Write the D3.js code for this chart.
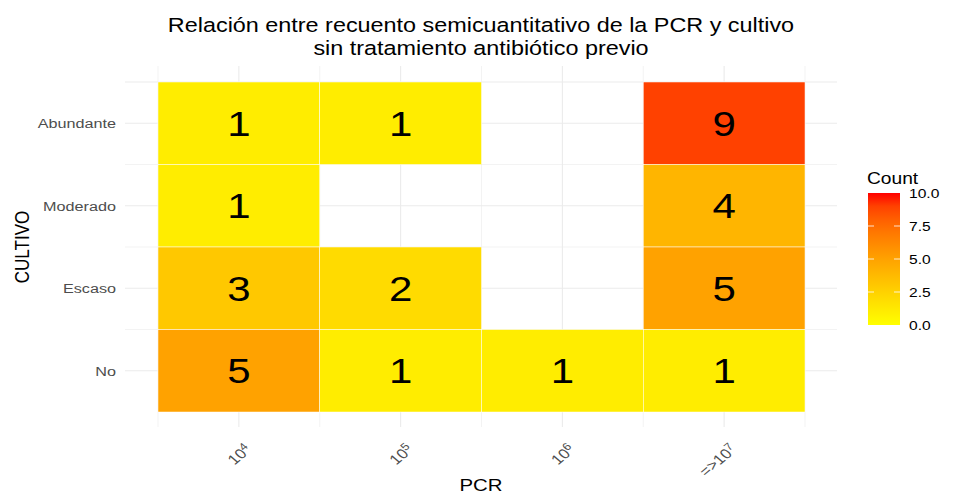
<!DOCTYPE html>
<meta charset="utf-8">
<title>PCR vs cultivo</title>
<body style="margin:0;background:#fff">
<script src="https://d3js.org/d3.v7.min.js"></script>
<div id="chart"></div>
<script>
// datos
var pcr = ["4", "5", "6", "7"];               // exponentes de 10
var pcrPrefix = ["", "", "", "=>"];
var cultivo = ["No", "Escaso", "Moderado", "Abundante"];
var counts = [
  // [pcr, cultivo, n]
  ["4", "Abundante", 1], ["5", "Abundante", 1], ["7", "Abundante", 9],
  ["4", "Moderado", 1], ["7", "Moderado", 4],
  ["4", "Escaso", 3], ["5", "Escaso", 2], ["7", "Escaso", 5],
  ["4", "No", 5], ["5", "No", 1], ["6", "No", 1], ["7", "No", 1]
];
var legendTicks = [0, 2.5, 5, 7.5, 10];

var W = 953, H = 496;
var panel = {left: 125, right: 837, top: 66, bottom: 427};
var font = "'Liberation Sans', Arial, sans-serif";
var sx = 1.2; // la imagen original esta estirada en horizontal

var svg = d3.select("#chart").append("svg")
  .attr("width", W).attr("height", H)
  .style("font-family", font);

function label(px, py, txt, size, anchor, fill) {
  return svg.append("text")
    .attr("transform", "translate(" + px + "," + py + ") scale(" + sx + ",1)")
    .attr("text-anchor", anchor || "start")
    .attr("font-size", size).attr("fill", fill || "#000")
    .text(txt);
}

var x = d3.scaleBand().domain(pcr).range([158, 805]);
var y = d3.scaleBand().domain(cultivo).range([412, 82]);
var color = d3.scaleSequential(d3.interpolateLab("yellow", "red")).domain([0, 10]);

// rejilla
var grid = svg.append("g");
var xb = pcr.map(function(d) { return x(d); }).concat([x.range()[1]]);
var yb = cultivo.map(function(d) { return y(d); }).concat([y.range()[1]]);
xb.forEach(function(v) {
  grid.append("line").attr("x1", v).attr("x2", v).attr("y1", panel.top).attr("y2", panel.bottom)
    .attr("stroke", "#ebebeb").attr("stroke-width", 0.6);
});
yb.forEach(function(v) {
  grid.append("line").attr("y1", v).attr("y2", v).attr("x1", panel.left).attr("x2", panel.right)
    .attr("stroke", "#ebebeb").attr("stroke-width", 0.6);
});
pcr.forEach(function(d) {
  var v = x(d) + x.bandwidth() / 2;
  grid.append("line").attr("x1", v).attr("x2", v).attr("y1", panel.top).attr("y2", panel.bottom)
    .attr("stroke", "#ebebeb").attr("stroke-width", 1.1);
});
cultivo.forEach(function(d) {
  var v = y(d) + y.bandwidth() / 2;
  grid.append("line").attr("y1", v).attr("y2", v).attr("x1", panel.left).attr("x2", panel.right)
    .attr("stroke", "#ebebeb").attr("stroke-width", 1.1);
});

// celdas
svg.append("g").selectAll("rect").data(counts).enter().append("rect")
  .attr("x", function(d) { return x(d[0]); })
  .attr("y", function(d) { return y(d[1]); })
  .attr("width", x.bandwidth())
  .attr("height", y.bandwidth())
  .attr("fill", function(d) { return color(d[2]); })
  .attr("stroke", "#fff").attr("stroke-width", 0.5);

counts.forEach(function(d) {
  label(x(d[0]) + x.bandwidth() / 2, y(d[1]) + y.bandwidth() / 2 + 12.5, d[2], 35, "middle");
});

// eje y
cultivo.forEach(function(d) {
  label(116, y(d) + y.bandwidth() / 2 + 4.8, d, 13.5, "end", "#4d4d4d");
});

// eje x
pcr.forEach(function(d, i) {
  var cx = x(d) + x.bandwidth() / 2;
  var t = svg.append("text")
    .attr("transform", "translate(" + (cx + 5) + ",443) scale(" + sx + ",1) rotate(-45)")
    .attr("text-anchor", "end").attr("dy", "0.75em")
    .attr("font-size", 14).attr("fill", "#4d4d4d");
  t.append("tspan").text(pcrPrefix[i] + "10");
  t.append("tspan").attr("dy", "-0.45em").attr("font-size", 10.5).text(d);
});

// titulos
label(481, 32, "Relación entre recuento semicuantitativo de la PCR y cultivo", 19.5, "middle");
label(481, 55, "sin tratamiento antibiótico previo", 19.5, "middle");
label(481, 491, "PCR", 17, "middle");
svg.append("text").attr("transform", "translate(29,247) scale(" + sx + ",1) rotate(-90)")
  .attr("text-anchor", "middle").attr("font-size", 17).text("CULTIVO");

// leyenda
var ly = d3.scaleLinear().domain([0, 10]).range([325, 193]);
var defs = svg.append("defs");
var grad = defs.append("linearGradient").attr("id", "g").attr("x1", 0).attr("x2", 0).attr("y1", 1).attr("y2", 0);
d3.range(0, 10.01, 1).forEach(function(v) {
  grad.append("stop").attr("offset", v / 10).attr("stop-color", color(v));
});
svg.append("rect").attr("x", 868).attr("y", 193).attr("width", 32).attr("height", 132).attr("fill", "url(#g)");
legendTicks.forEach(function(v) {
  if (v > 0 && v < 10) {
    svg.append("line").attr("x1", 868).attr("x2", 874).attr("y1", ly(v)).attr("y2", ly(v)).attr("stroke", "#fff").attr("stroke-opacity", 0.8);
    svg.append("line").attr("x1", 894).attr("x2", 900).attr("y1", ly(v)).attr("y2", ly(v)).attr("stroke", "#fff").attr("stroke-opacity", 0.8);
  }
  label(909, ly(v) + 4.7, d3.format(".1f")(v), 13, "start");
});
label(867, 184, "Count", 16, "start");
</script>
</body>
